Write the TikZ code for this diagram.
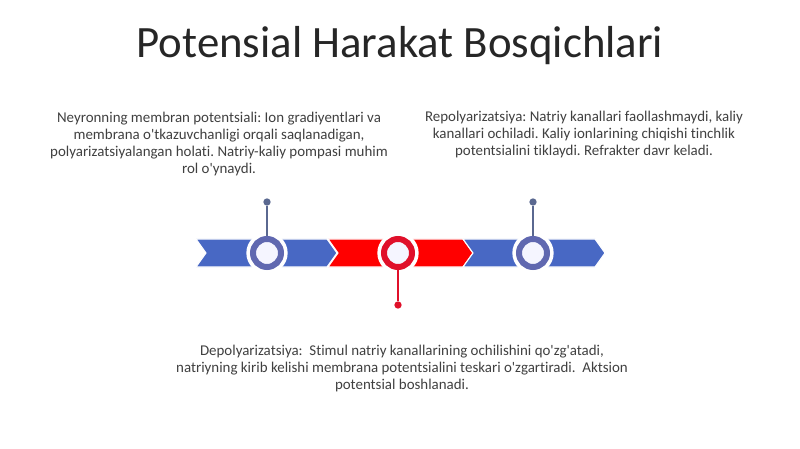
\documentclass[tikz,border=0pt]{standalone}
\usepackage{fontspec}
\setmainfont{Carlito}[Ligatures={TeXOff,NoCommon}]
\frenchspacing
\definecolor{arrowblue}{HTML}{4868C4}
\definecolor{ringblue}{HTML}{6068B0}
\definecolor{stemblue}{HTML}{5A6890}
\definecolor{arrowred}{HTML}{FF0000}
\definecolor{ringred}{HTML}{E0102A}
\definecolor{textgray}{HTML}{404040}
\begin{document}
\begin{tikzpicture}[x=0.75pt,y=-0.75pt,
	chevron/.style={fill=#1, draw=white, line width=0.8pt},
	ring/.style={circle, draw=#1, line width=4.5pt, fill=white!96!blue, minimum size=21pt, inner sep=0pt},
	halo/.style={circle, fill=white, minimum size=31pt, inner sep=0pt},
	stem/.style={draw=#1, line width=1.2pt},
	dot/.style={circle, fill=#1, minimum size=5.5pt, inner sep=0pt},
	phasetext/.style={align=center, text=textgray, font=\fontsize{11.2}{12.75}\selectfont}]
	\useasboundingbox (0,0) rectangle (800,449);
	\fill[white] (0,0) rectangle (800,449);
	\node[text=black!85, font=\fontsize{33.6}{40}\selectfont] (title) at (400,46) {Potensial Harakat Bosqichlari};
	% chevrons
	\foreach \xa/\xb/\col in {196/337/arrowblue, 328/473/arrowred, 463/605/arrowblue}{
		\path[chevron=\col] (\xa,239) -- (\xb-10,239) -- (\xb,253) -- (\xb-10,267) -- (\xa,267) -- (\xa+10,253) -- cycle;
	}
	% rings
	\node[halo] at (267,253) {};
	\node[halo] at (398,253) {};
	\node[halo] at (533,253) {};
	\node[ring=ringblue] (rest) at (267,253) {};
	\node[ring=ringred] (depol) at (398,253) {};
	\node[ring=ringblue] (repol) at (533,253) {};
	\node[dot=stemblue] (restdot) at (267,202) {};
	\node[dot=ringred] (depoldot) at (398,305) {};
	\node[dot=stemblue] (repoldot) at (533,202) {};
	\draw[stem=stemblue] (rest) -- (restdot);
	\draw[stem=ringred] (depol) -- (depoldot);
	\draw[stem=stemblue] (repol) -- (repoldot);
	% texts
	\node[phasetext] (resttext) at (219,144) {Neyronning membran potentsiali: Ion gradiyentlari va\\
		membrana o'tkazuvchanligi orqali saqlanadigan,\\
		polyarizatsiyalangan holati. Natriy-kaliy pompasi muhim\\
		rol o'ynaydi.};
	\node[phasetext] (repoltext) at (584,135) {Repolyarizatsiya: Natriy kanallari faollashmaydi, kaliy\\
		kanallari ochiladi. Kaliy ionlarining chiqishi tinchlik\\
		potentsialini tiklaydi. Refrakter davr keladi.};
	\node[phasetext] (depoltext) at (402,369) {Depolyarizatsiya:\ \ Stimul natriy kanallarining ochilishini qo'zg'atadi,\\
		natriyning kirib kelishi membrana potentsialini teskari o'zgartiradi.\ \ Aktsion\\
		potentsial boshlanadi.};
\end{tikzpicture}
\end{document}
